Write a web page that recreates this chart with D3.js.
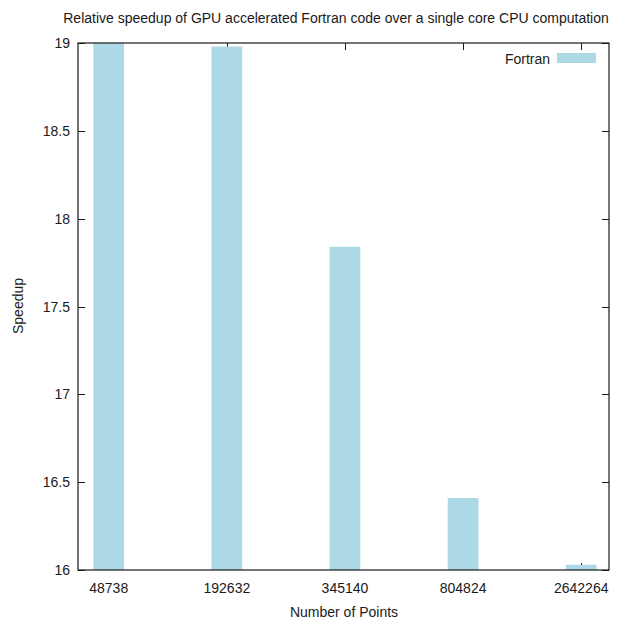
<!DOCTYPE html>
<html>
<head>
<meta charset="utf-8">
<script src="https://cdn.jsdelivr.net/npm/d3@7"></script>
<style>
  html, body { margin: 0; padding: 0; background: #fff; }
  svg { display: block; font-family: "Liberation Sans", Arial, sans-serif; }
</style>
</head>
<body>
<svg id="chart" width="619" height="623"></svg>
<script>
// Problem sizes (number of points) and measured GPU-over-CPU speedup
const categories = ["48738", "192632", "345140", "804824", "2642264"];
const speedup = [19.25, 18.98, 17.84, 16.41, 16.03];
const yTicks = [16, 16.5, 17, 17.5, 18, 18.5, 19];
const seriesName = "Fortran";

const W = 619, H = 623;
const margin = { left: 78, right: 619 - 609, top: 43, bottom: 623 - 570 };
const svg = d3.select("#chart");
const textColor = "#1a1a1a";
const barColor = "#add8e6";
const fs = 14;

const x = d3.scaleLinear().domain([-0.26, 4.235]).range([margin.left, W - margin.right]);
const y = d3.scaleLinear().domain([16, 19]).range([H - margin.bottom, margin.top]);
const barW = 0.26;

// clip bars to the plot area
svg.append("defs").append("clipPath").attr("id", "plot")
  .append("rect")
  .attr("x", x.range()[0]).attr("y", y.range()[1])
  .attr("width", x.range()[1] - x.range()[0])
  .attr("height", y.range()[0] - y.range()[1]);

const tickLen = 7;
const ticksG = svg.append("g").attr("stroke", textColor).attr("stroke-width", 1);

// y ticks, left and mirrored on the right, pointing inward
yTicks.forEach(v => {
  const yy = Math.round(y(v)) + 0.5;
  ticksG.append("line").attr("x1", x.range()[0]).attr("x2", x.range()[0] + tickLen).attr("y1", yy).attr("y2", yy);
  ticksG.append("line").attr("x1", x.range()[1] - tickLen).attr("x2", x.range()[1]).attr("y1", yy).attr("y2", yy);
});
// x ticks at each category, bottom and mirrored on top
categories.forEach((c, i) => {
  const xx = Math.round(x(i)) + 0.5;
  ticksG.append("line").attr("x1", xx).attr("x2", xx).attr("y1", y.range()[0]).attr("y2", y.range()[0] - tickLen);
  ticksG.append("line").attr("x1", xx).attr("x2", xx).attr("y1", y.range()[1]).attr("y2", y.range()[1] + tickLen);
});

// bars
svg.append("g").attr("clip-path", "url(#plot)")
  .selectAll("rect").data(speedup).join("rect")
  .attr("x", (d, i) => x(i - barW / 2))
  .attr("width", (d, i) => x(i + barW / 2) - x(i - barW / 2))
  .attr("y", d => y(d))
  .attr("height", d => y(16) - y(d))
  .attr("fill", barColor);

// border
svg.append("rect")
  .attr("x", x.range()[0]).attr("y", y.range()[1])
  .attr("width", x.range()[1] - x.range()[0])
  .attr("height", y.range()[0] - y.range()[1])
  .attr("fill", "none").attr("stroke", textColor).attr("stroke-width", 1.2);

// y tick labels
svg.append("g").selectAll("text").data(yTicks).join("text")
  .attr("x", 70).attr("y", d => y(d) + 5)
  .attr("text-anchor", "end")
  .attr("font-size", fs).attr("fill", textColor)
  .text(d => d3.format("")(d));

// x tick labels
svg.append("g").selectAll("text").data(categories).join("text")
  .attr("x", (d, i) => x(i)).attr("y", 593)
  .attr("text-anchor", "middle")
  .attr("font-size", fs).attr("fill", textColor)
  .text(d => d);

// axis titles
svg.append("text").attr("x", 344).attr("y", 617).attr("text-anchor", "middle")
  .attr("font-size", fs).attr("fill", textColor).text("Number of Points");
svg.append("text").attr("transform", "translate(23,306) rotate(-90)").attr("text-anchor", "middle")
  .attr("font-size", fs).attr("fill", textColor).text("Speedup");

// title
svg.append("text").attr("x", 336).attr("y", 23).attr("text-anchor", "middle")
  .attr("font-size", fs).attr("fill", textColor)
  .text("Relative speedup of GPU accelerated Fortran code over a single core CPU computation");

// legend
svg.append("text").attr("x", 550).attr("y", 64).attr("text-anchor", "end")
  .attr("font-size", fs).attr("fill", textColor).text(seriesName);
svg.append("rect").attr("x", 557).attr("y", 53).attr("width", 39).attr("height", 10).attr("fill", barColor);
</script>
</body>
</html>
